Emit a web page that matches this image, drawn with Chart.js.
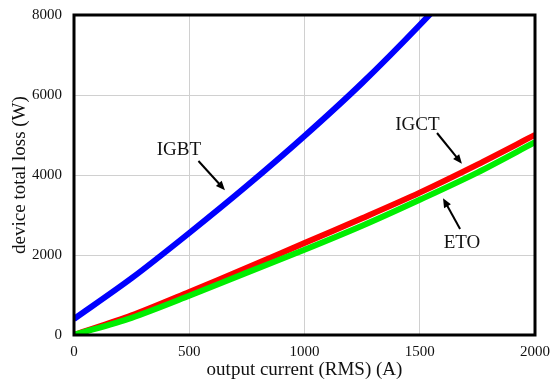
<!DOCTYPE html>
<html>
<head>
<meta charset="utf-8">
<script src="https://cdn.jsdelivr.net/npm/chart.js@4"></script>
<style>
  html, body { margin: 0; padding: 0; background: #fff; }
  #wrap { width: 551px; height: 381px; }
</style>
</head>
<body>
<div id="wrap"><canvas id="chart" width="551" height="381"></canvas></div>
<script>
// output current (A)
const current = [0, 250, 500, 750, 1000, 1250, 1500, 1750, 2000]
// device total loss (W)
const igbtLoss = [400, 1420, 2550, 3730, 4975, 6300, 7750, 9300, 10900]
const igctLoss = [0, 490, 1075, 1680, 2300, 2920, 3560, 4260, 5000]
const etoLoss = [0, 430, 980, 1560, 2130, 2730, 3380, 4060, 4820]
const xTicks = [0, 500, 1000, 1500, 2000]
const yTicks = [0, 2000, 4000, 6000, 8000]

// labels with arrows, in data units: text pos, arrow tail, arrow head
const notes = [
    { text: 'IGBT', at: [455, 4625], from: [540, 4350], to: [655, 3620] },
    { text: 'IGCT', at: [1490, 5250], from: [1575, 5050], to: [1683, 4280] },
    { text: 'ETO', at: [1683, 2300], from: [1675, 2650], to: [1601, 3420] }
]

const serif = '"Liberation Serif", "Times New Roman", serif'

function toPoints(ys) {
    return current.map((x, i) => ({ x: x, y: ys[i] }))
}

const notePlugin = {
    id: 'notes',
    afterDatasetsDraw(chart) {
        const ctx = chart.ctx
        const xs = chart.scales.x
        const ys = chart.scales.y
        ctx.save()
        ctx.font = '19px ' + serif
        ctx.fillStyle = '#111'
        ctx.textAlign = 'center'
        ctx.textBaseline = 'middle'
        notes.forEach(n => {
            ctx.fillText(n.text, xs.getPixelForValue(n.at[0]), ys.getPixelForValue(n.at[1]))
            const x1 = xs.getPixelForValue(n.from[0]), y1 = ys.getPixelForValue(n.from[1])
            const x2 = xs.getPixelForValue(n.to[0]), y2 = ys.getPixelForValue(n.to[1])
            const a = Math.atan2(y2 - y1, x2 - x1)
            ctx.strokeStyle = '#000'
            ctx.lineWidth = 2
            ctx.beginPath()
            ctx.moveTo(x1, y1)
            ctx.lineTo(x2 - 5 * Math.cos(a), y2 - 5 * Math.sin(a))
            ctx.stroke()
            ctx.fillStyle = '#000'
            ctx.beginPath()
            ctx.moveTo(x2, y2)
            ctx.lineTo(x2 - 10 * Math.cos(a - 0.4), y2 - 10 * Math.sin(a - 0.4))
            ctx.lineTo(x2 - 10 * Math.cos(a + 0.4), y2 - 10 * Math.sin(a + 0.4))
            ctx.closePath()
            ctx.fill()
            ctx.fillStyle = '#111'
        })
        // frame round the plot
        const ca = chart.chartArea
        ctx.strokeStyle = '#000'
        ctx.lineWidth = 3
        ctx.strokeRect(ca.left, ca.top, ca.right - ca.left, ca.bottom - ca.top)
        ctx.restore()
    }
}

new Chart(document.getElementById('chart').getContext('2d'), {
    type: 'line',
    data: {
        datasets: [
            { label: 'ETO', data: toPoints(etoLoss), borderColor: '#00ee00', borderWidth: 6 },
            { label: 'IGCT', data: toPoints(igctLoss), borderColor: '#ff0000', borderWidth: 6 },
            { label: 'IGBT', data: toPoints(igbtLoss), borderColor: '#0000ff', borderWidth: 6 }
        ]
    },
    options: {
        responsive: false,
        animation: false,
        maintainAspectRatio: false,
        layout: { padding: { top: 15, right: 16, left: 0, bottom: 0 } },
        elements: { point: { radius: 0 }, line: { tension: 0.3 } },
        plugins: { legend: { display: false }, tooltip: { enabled: false } },
        scales: {
            x: {
                type: 'linear',
                min: 0,
                max: 2000,
                afterBuildTicks: s => { s.ticks = xTicks.map(v => ({ value: v })) },
                afterFit: s => { s.height = 46; s.paddingLeft = 0; s.paddingRight = 0 },
                grid: { color: '#d0d0d0', lineWidth: 1, drawTicks: false },
                border: { display: false },
                ticks: { color: '#111', font: { family: serif, size: 15 }, padding: 8, callback: v => String(v) },
                title: { display: true, text: 'output current (RMS) (A)', color: '#111', font: { family: serif, size: 19 }, padding: { top: 0, bottom: 0 } }
            },
            y: {
                min: 0,
                max: 8000,
                afterBuildTicks: s => { s.ticks = yTicks.map(v => ({ value: v })) },
                afterFit: s => { s.width = 74; s.paddingTop = 0; s.paddingBottom = 0 },
                grid: { color: '#d0d0d0', lineWidth: 1, drawTicks: false },
                border: { display: false },
                ticks: { color: '#111', font: { family: serif, size: 15 }, padding: 12, callback: v => String(v) },
                title: { display: true, text: 'device total loss (W)', color: '#111', font: { family: serif, size: 19 }, padding: { top: 9, bottom: 0 } }
            }
        }
    },
    plugins: [notePlugin]
})
</script>
</body>
</html>
